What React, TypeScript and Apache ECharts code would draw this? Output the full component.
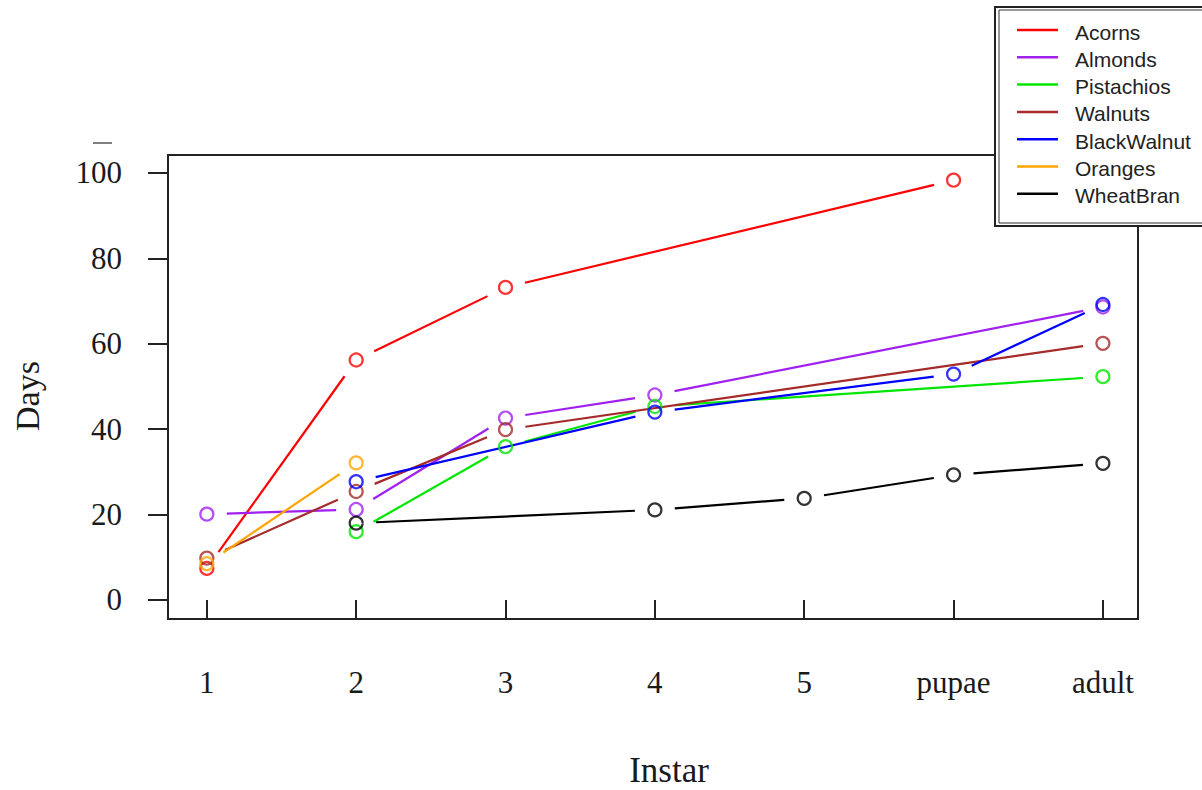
import React, { useEffect, useRef } from "react";
import * as echarts from "echarts";

// ---- data ----
const categories = ["1", "2", "3", "4", "5", "pupae", "adult"];
const xPositions = [1, 2, 3, 4, 5, 6, 7];
const yTicks = [0, 20, 40, 60, 80, 100];

const seriesNames = ["Acorns", "Almonds", "Pistachios", "Walnuts", "BlackWalnut", "Oranges", "WheatBran"];
const seriesColors = ["#ff0000", "#a020f0", "#00e600", "#a52a2a", "#0000ff", "#ffa500", "#000000"];

const acorns = [7.4, 56.2, 73.2, null, null, 98.3, null];
const almonds = [20.1, 21.2, 42.6, 48.0, null, null, 68.6];
const pistachios = [null, 16.0, 35.9, 45.3, null, null, 52.3];
const walnuts = [9.8, 25.4, 39.9, null, null, null, 60.1];
const blackWalnut = [null, 27.7, null, 44.0, null, 52.9, 69.2];
const oranges = [8.5, 32.1, null, null, null, null, null];
const wheatBran = [null, 18.0, null, 21.1, 23.8, 29.3, 32.0];

const allValues = [acorns, almonds, pistachios, walnuts, blackWalnut, oranges, wheatBran];

const GAP = 20;

function pointsOf(vals: (number | null)[]) {
  const pts: number[][] = [];
  vals.forEach((v, i) => {
    if (v !== null && v !== undefined) pts.push([xPositions[i], v]);
  });
  return pts;
}

function segmentsOf(vals: (number | null)[]) {
  const pts = pointsOf(vals);
  const segs: number[][] = [];
  for (let i = 0; i < pts.length - 1; i++) {
    segs.push([pts[i][0], pts[i][1], pts[i + 1][0], pts[i + 1][1]]);
  }
  return segs;
}

export default function App() {
  const ref = useRef<HTMLDivElement>(null);

  useEffect(() => {
    document.body.style.margin = "0";
    if (!ref.current) return;
    const chart = echarts.init(ref.current, null, { renderer: "svg" });

    const series: any[] = [];
    allValues.forEach((vals, idx) => {
      const color = seriesColors[idx];
      series.push({
        type: "custom",
        name: seriesNames[idx] + " lines",
        data: segmentsOf(vals),
        encode: { x: [0, 2], y: [1, 3] },
        clip: false,
        z: 2,
        renderItem: (params: any, api: any) => {
          const p1 = api.coord([api.value(0), api.value(1)]);
          const p2 = api.coord([api.value(2), api.value(3)]);
          const dx = p2[0] - p1[0];
          const dy = p2[1] - p1[1];
          const len = Math.sqrt(dx * dx + dy * dy);
          if (len <= 2 * GAP) return null;
          const ux = dx / len;
          const uy = dy / len;
          return {
            type: "line",
            shape: {
              x1: p1[0] + ux * GAP,
              y1: p1[1] + uy * GAP,
              x2: p2[0] - ux * GAP,
              y2: p2[1] - uy * GAP,
            },
            style: { stroke: color, lineWidth: 2.2 },
          };
        },
      });
      series.push({
        type: "scatter",
        name: seriesNames[idx],
        data: pointsOf(vals),
        symbol: "circle",
        symbolSize: 13,
        clip: false,
        z: 3,
        itemStyle: { color: "rgba(0,0,0,0)", borderColor: color, borderWidth: 2.2 },
      });
    });

    const legendTop = 30;
    const legendStep = 27.3;
    const legendChildren: any[] = [];
    seriesNames.forEach((name, i) => {
      const y = legendTop + i * legendStep;
      legendChildren.push({
        type: "line",
        z: 101,
        shape: { x1: 1017, y1: y, x2: 1058, y2: y },
        style: { stroke: seriesColors[i], lineWidth: 2.5 },
      });
      legendChildren.push({
        type: "text",
        z: 101,
        x: 1075,
        y: y + 2,
        style: {
          text: name,
          fontFamily: "Liberation Sans, Arial, sans-serif",
          fontSize: 21,
          fill: "#222",
          verticalAlign: "middle",
          align: "left",
        },
      });
    });

    const option: any = {
      animation: false,
      backgroundColor: "#ffffff",
      grid: {
        left: 168,
        top: 155,
        width: 970,
        height: 464,
        show: true,
        borderColor: "#222",
        borderWidth: 2,
        backgroundColor: "transparent",
      },
      xAxis: {
        type: "value",
        min: 0.74,
        max: 7.235,
        axisLine: { show: false },
        splitLine: { show: false },
        axisTick: {
          show: true,
          length: 20,
          customValues: xPositions,
          lineStyle: { color: "#222", width: 2 },
        },
        axisLabel: {
          customValues: xPositions,
          margin: 48,
          fontFamily: "Liberation Serif, Times New Roman, serif",
          fontSize: 31,
          color: "#1a1a1a",
          formatter: (v: number) => categories[Math.round(v) - 1] ?? "",
        },
      },
      yAxis: {
        type: "value",
        min: -4.45,
        max: 104.2,
        axisLine: { show: false },
        splitLine: { show: false },
        axisTick: {
          show: true,
          length: 20,
          customValues: yTicks,
          lineStyle: { color: "#222", width: 2 },
        },
        axisLabel: {
          customValues: yTicks,
          margin: 46,
          fontFamily: "Liberation Serif, Times New Roman, serif",
          fontSize: 31,
          color: "#1a1a1a",
          formatter: (v: number) => String(Math.round(v)),
        },
      },
      graphic: [
        {
          type: "text",
          z: 50,
          x: 669,
          y: 770,
          style: {
            text: "Instar",
            fontFamily: "Liberation Serif, Times New Roman, serif",
            fontSize: 35,
            lineHeight: 28,
            fill: "#1a1a1a",
            align: "center",
            verticalAlign: "middle",
          },
        },
        {
          type: "text",
          z: 50,
          x: 27,
          y: 396,
          rotation: Math.PI / 2,
          style: {
            text: "Days",
            fontFamily: "Liberation Serif, Times New Roman, serif",
            fontSize: 34,
            fill: "#1a1a1a",
            align: "center",
            verticalAlign: "middle",
          },
        },
        {
          type: "line",
          z: 50,
          shape: { x1: 93, y1: 143, x2: 112, y2: 143 },
          style: { stroke: "#555", lineWidth: 1.5 },
        },
        {
          type: "rect",
          z: 100,
          shape: { x: 995, y: 7, width: 220, height: 219 },
          style: { fill: "#ffffff", stroke: "#222", lineWidth: 2 },
        },
        {
          type: "rect",
          z: 100,
          shape: { x: 999, y: 10, width: 220, height: 213 },
          style: { fill: "none", stroke: "#333", lineWidth: 1 },
        },
        ...legendChildren,
      ],
      series,
    };

    chart.setOption(option);
    return () => chart.dispose();
  }, []);

  return <div ref={ref} style={{ width: 1202, height: 790 }} />;
}
